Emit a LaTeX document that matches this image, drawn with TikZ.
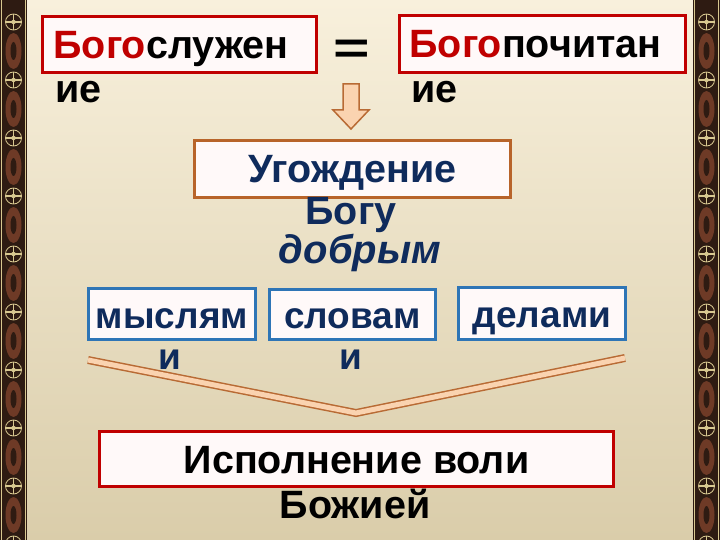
\documentclass[tikz,border=0pt]{standalone}
\usepackage{fontspec}
\setmainfont{Liberation Sans}
\usepackage{graphicx}
\usepackage{tikz}
\usetikzlibrary{positioning}

\definecolor{bogored}{HTML}{C00000}
\definecolor{navy}{HTML}{0F2B5C}
\definecolor{boxblue}{HTML}{2E75B6}
\definecolor{boxbrown}{HTML}{B8642A}
\definecolor{peach}{HTML}{FAD3B0}
\definecolor{arrowbrown}{HTML}{B86A34}
\definecolor{creamtop}{HTML}{F8F0DC}
\definecolor{creambot}{HTML}{DACDAA}
\definecolor{banddark}{HTML}{2E1B12}
\definecolor{bandred}{HTML}{6E3A26}
\definecolor{bandgold}{HTML}{D8C890}
\definecolor{boxfill}{HTML}{FFF9F9}

\tikzset{
  redbox/.style={draw=bogored, line width=3pt, fill=boxfill, inner sep=0pt,
    text height=28pt, text depth=0pt},
  bluebox/.style={draw=boxblue, line width=3pt, fill=boxfill, inner sep=0pt,
    text height=28pt, text depth=0pt},
  brownbox/.style={draw=boxbrown, line width=3pt, fill=boxfill, inner sep=0pt,
    text height=28pt, text depth=0pt},
  bigtext/.style={font=\fontsize{39.5}{46}\selectfont\bfseries},
  smalltext/.style={font=\fontsize{37}{44}\selectfont\bfseries},
}

\begin{document}
\begin{tikzpicture}[x=1pt,y=-1pt]
        \useasboundingbox (0,0) rectangle (720,540);

        % cream background
        \shade[top color=creamtop, bottom color=creambot] (0,0) rectangle (720,540);

        % ornamental bands left and right
        \foreach \bx in {0,693} {
          \fill[banddark] (\bx,0) rectangle (\bx+27,540);
          \foreach \my in {51,109,...,540} {
            \fill[bandred] (\bx+13.5,\my) ellipse (8 and 18);
            \fill[banddark] (\bx+13.5,\my) ellipse (3 and 9);
          }
          \foreach \my in {22,80,...,560} {
            \fill[banddark] (\bx+13.5,\my) circle (11);
            \draw[bandgold, line width=0.8pt] (\bx+13.5,\my) circle (8);
            \draw[bandgold, line width=1.6pt] (\bx+13.5,\my-8) -- (\bx+13.5,\my+8);
            \draw[bandgold, line width=1.6pt] (\bx+5.5,\my) -- (\bx+21.5,\my);
            \fill[bandgold] (\bx+13.5,\my) circle (2.2);
          }
          \draw[bandgold, line width=0.8pt] (\bx+1.5,0) -- (\bx+1.5,540);
          \draw[bandgold, line width=0.8pt] (\bx+25.5,0) -- (\bx+25.5,540);
        }

        % write the two top boxes
        \node[redbox, minimum width=274pt, minimum height=56pt, anchor=north west,
              text width=260pt, align=left, bigtext] (sluzh) at (41,15)
              {\hspace*{4pt}\textcolor{bogored}{Бого}служен};
        \node[bigtext, anchor=base west] (sluzh2) at (52,103) {ие};

        \node[redbox, minimum width=286pt, minimum height=57pt, anchor=north west,
              text width=272pt, align=left, bigtext] (poch) at (398,14)
              {\hspace*{3pt}\textcolor{bogored}{Бого}почитан};
        \node[bigtext, anchor=base west] (poch2) at (408,103) {ие};

        % write equals sign
        \node[font=\fontsize{50}{50}\selectfont\bfseries, anchor=base] (eq) at (352,64)
          {\scalebox{1.25}[0.9]{=}};

        % draw block arrow down
        \coordinate (ar) at (351,84);
        \draw[arrowbrown, fill=peach, line width=1.5pt, line join=miter]
          (ar) ++(-8,0) -- ++(16,0) -- ++(0,26) -- ++(10,0) -- ++(-18,19)
          -- ++(-18,-19) -- ++(10,0) -- cycle;

        % write Ugozhdenie box
        \node[brownbox, minimum width=316pt, minimum height=57pt, anchor=north west,
              bigtext, text=navy] (ugod) at (193,139) {Угождение};
        \node[bigtext, text=navy, anchor=base] (ugod2) at (351,225) {Богу};

        % write dobrym
        \node[font=\fontsize{40}{40}\selectfont\bfseries\itshape, text=navy, anchor=base]
          (dobr) at (360,263) {добрым};

        % draw 3 blue boxes
        \node[bluebox, minimum width=167pt, minimum height=51pt, anchor=north west,
              smalltext, text=navy] (mysl) at (87,287) {мыслям};
        \node[bluebox, minimum width=166pt, minimum height=50pt, anchor=north west,
              smalltext, text=navy] (slov) at (268,288) {словам};
        \node[bluebox, minimum width=167pt, minimum height=52pt, anchor=north west,
              smalltext, text=navy] (dela) at (457,286) {делами};
        \node[smalltext, text=navy, anchor=base] (mysl2) at (170,369) {и};
        \node[smalltext, text=navy, anchor=base] (slov2) at (351,369) {и};

        % draw chevron joining the three
        \coordinate (chl) at (88,360);
        \coordinate (chm) at (356,413);
        \coordinate (chr) at (625,358);
        \draw[arrowbrown, line width=8pt, line join=miter] (chl) -- (chm) -- (chr);
        \draw[peach, line width=5pt, line join=miter] (chl) -- (chm) -- (chr);

        % write Ispolnenie box
        \node[redbox, minimum width=514pt, minimum height=55pt, anchor=north west,
              bigtext] (volya) at (98,430) {Исполнение воли};
        \node[bigtext, anchor=base] (volya2) at (355,518) {Божией};

      \end{tikzpicture}
\end{document}
